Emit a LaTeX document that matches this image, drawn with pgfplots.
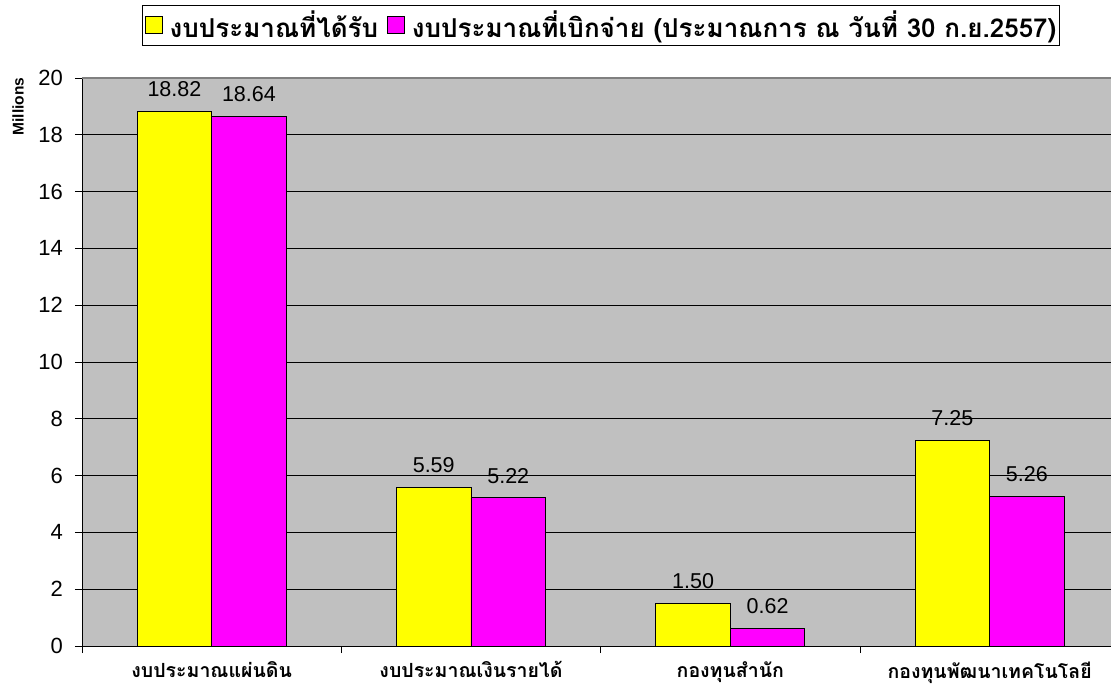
\documentclass[border=0pt]{standalone}
\usepackage{fontspec}
\setmainfont{Liberation Sans}
\newfontfamily\thaifont[Script=Thai]{Loma}
\usepackage{pgfplots}
\pgfplotsset{compat=1.18}
\definecolor{plotbg}{HTML}{C0C0C0}
\definecolor{topline}{HTML}{808080}
\definecolor{byellow}{HTML}{FFFF00}
\definecolor{bmag}{HTML}{FF00FF}
\begin{document}
\begin{tikzpicture}
\begin{axis}[
  name=ax, at={(0,0)},
  scale only axis, width=1029pt, height=568pt,
  xmin=-0.5, xmax=3.468, ymin=0, ymax=20,
  ybar=0pt, bar width=74.5pt,
  axis x line*=bottom, axis y line*=left,
  axis line style={-, black, line width=0.9pt},
  axis background/.style={fill=plotbg},
  /pgf/number format/assume math mode=true,
  ytick={0,2,...,20},
  ymajorgrids, grid style={black, line width=0.8pt},
  tick align=outside, major tick length=7pt,
  y tick style={black, line width=0.8pt},
  yticklabel style={font=\fontsize{22}{24}\selectfont, inner sep=0pt, xshift=-12pt},
  xtick={0,1,2,3},
  xticklabels={งบประมาณแผ่นดิน, งบประมาณเงินรายได้, กองทุนสำนัก, กองทุนพัฒนาเทคโนโลยี},
  x tick style={draw=none},
  xticklabel style={font=\thaifont\bfseries\fontsize{19.5}{21}\selectfont, yshift=-5pt},
  extra x ticks={-0.5,0.5,1.5,2.5},
  extra x tick labels={},
  extra x tick style={x tick style={draw=black, line width=0.8pt}},
  ylabel={Millions},
  ylabel style={at={(axis description cs:-0.0622,0.95)}, anchor=center, font=\bfseries\fontsize{15.5}{17}\selectfont},
  nodes near coords={\pgfmathprintnumber[fixed,fixed zerofill,precision=2]{\pgfplotspointmeta}},
  every node near coord/.append style={font=\fontsize{21.5}{23}\selectfont, anchor=south, inner sep=0pt, yshift=14pt, black},
  legend columns=2,
  legend style={at={(axis description cs:0.504,1.093)}, anchor=center, draw=black, line width=0.8pt, fill=white,
    font=\thaifont\bfseries\fontsize{26}{28}\selectfont, inner xsep=3pt, inner ysep=6pt,
    nodes={inner sep=0pt},
    /tikz/every even column/.append style={column sep=9pt},
    /tikz/every odd column/.append style={column sep=7pt}},
]
\addplot[fill=byellow, draw=black, line width=0.9pt,
  legend image code/.code={\draw[fill=byellow, draw=black, line width=0.8pt] (0pt,-8.5pt) rectangle (17pt,8.5pt);}]
  coordinates {(0,18.82) (1,5.59) (2,1.50) (3,7.25)};
\addlegendentry{งบประมาณที่ได้รับ}
\addplot[fill=bmag, draw=black, line width=0.9pt,
  legend image code/.code={\draw[fill=bmag, draw=black, line width=0.8pt] (0pt,-8.5pt) rectangle (17pt,8.5pt);}]
  coordinates {(0,18.64) (1,5.22) (2,0.62) (3,5.26)};
\addlegendentry{งบประมาณที่เบิกจ่าย (ประมาณการ ณ วันที่ 30 ก.ย.2557)\hspace{6pt}}
\draw[topline, line width=1.6pt] (rel axis cs:0,1) -- (rel axis cs:1,1);
\end{axis}
\pgfresetboundingbox
\path ([xshift=-82pt,yshift=-40pt]ax.south west) rectangle ([yshift=78pt]ax.north east);
\end{tikzpicture}
\end{document}
